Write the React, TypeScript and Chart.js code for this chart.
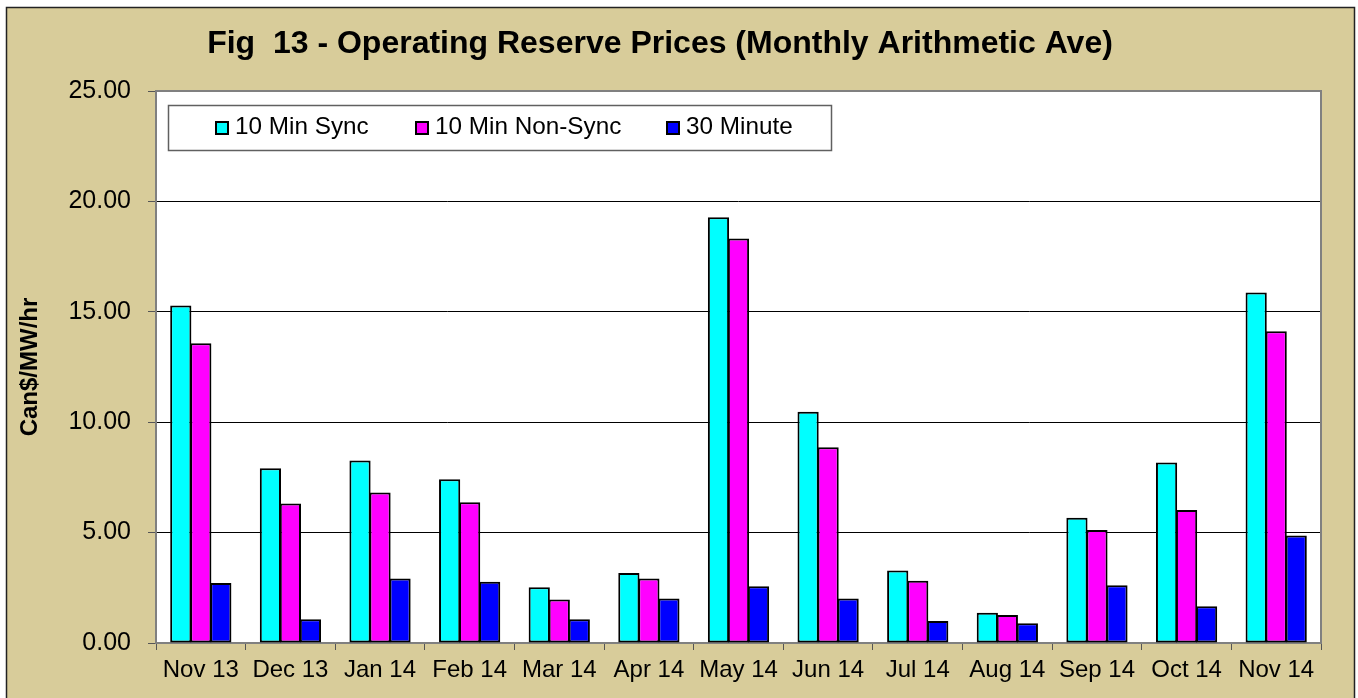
import React, { useEffect, useRef } from "react";
import { Chart, registerables } from "chart.js";

Chart.register(...registerables);

const months = ["Nov 13", "Dec 13", "Jan 14", "Feb 14", "Mar 14", "Apr 14", "May 14", "Jun 14", "Jul 14", "Aug 14", "Sep 14", "Oct 14", "Nov 14"];
const sync10 = [15.28, 7.92, 8.27, 7.42, 2.52, 3.17, 19.28, 10.47, 3.28, 1.37, 5.67, 8.17, 15.87];
const nonSync10 = [13.57, 6.32, 6.82, 6.37, 1.97, 2.92, 18.32, 8.87, 2.82, 1.27, 5.12, 6.02, 14.12];
const min30 = [2.72, 1.07, 2.92, 2.77, 1.07, 2.02, 2.57, 2.02, 1.0, 0.9, 2.62, 1.67, 4.87];
const seriesLabels = ["10 Min Sync", "10 Min Non-Sync", "30 Minute"];
const seriesColors = ["#00FFFF", "#FF00FF", "#0000FF"];
const yMin = 0;
const yMax = 25;
const yStep = 5;
const titleText = "Fig  13 - Operating Reserve Prices (Monthly Arithmetic Ave)";
const yAxisTitle = "Can$/MW/hr";

const FONT = "'Liberation Sans', Arial, sans-serif";
const TAN = "rgb(216,204,154)";

const decor = {
  id: "decor",
  beforeDraw(chart: any) {
    const ctx = chart.ctx;
    const { width, height } = chart;
    ctx.save();
    ctx.fillStyle = "#ffffff";
    ctx.fillRect(0, 0, width, height);
    ctx.fillStyle = TAN;
    ctx.fillRect(6, 7, 1349, height);
    ctx.strokeStyle = "#222";
    ctx.lineWidth = 1.5;
    ctx.strokeRect(6.5, 7.5, 1348, height + 10);
    const a = chart.chartArea;
    ctx.fillStyle = "#ffffff";
    ctx.fillRect(a.left, a.top, a.right - a.left, a.bottom - a.top);
    ctx.restore();
  },
  beforeDatasetsDraw(chart: any) {
    const ctx = chart.ctx;
    const a = chart.chartArea;
    ctx.save();
    ctx.strokeStyle = "#808080";
    ctx.lineWidth = 2;
    ctx.strokeRect(a.left, a.top, a.right - a.left, a.bottom - a.top);
    ctx.restore();
  },
  afterDraw(chart: any) {
    const ctx = chart.ctx;
    const a = chart.chartArea;
    ctx.save();
    // title
    ctx.fillStyle = "#000";
    ctx.font = `bold 32px ${FONT}`;
    ctx.textAlign = "center";
    ctx.textBaseline = "alphabetic";
    ctx.fillText(titleText, 660, 53);
    // y axis title
    ctx.save();
    ctx.translate(37, (a.top + a.bottom) / 2);
    ctx.rotate(-Math.PI / 2);
    ctx.font = `bold 24px ${FONT}`;
    ctx.textAlign = "center";
    ctx.fillText(yAxisTitle, 0, 0);
    ctx.restore();
    // legend
    ctx.fillStyle = "#fff";
    ctx.fillRect(168, 105, 664, 46);
    ctx.strokeStyle = "#606060";
    ctx.lineWidth = 1.5;
    ctx.strokeRect(168.5, 105.5, 663, 45);
    const markerX = [216, 416, 667];
    const ds = chart.data.datasets;
    ctx.font = `24.3px ${FONT}`;
    ctx.textAlign = "left";
    ctx.textBaseline = "alphabetic";
    for (let i = 0; i < ds.length; i++) {
      const mx = markerX[i];
      ctx.fillStyle = ds[i].backgroundColor;
      ctx.fillRect(mx, 122, 12, 12);
      ctx.strokeStyle = "#000";
      ctx.lineWidth = 2;
      ctx.strokeRect(mx, 122, 12, 12);
      ctx.fillStyle = "#000";
      ctx.fillText(ds[i].label, mx + 19, 134);
    }
    ctx.restore();
  },
};

export default function App() {
  const ref = useRef<HTMLCanvasElement | null>(null);
  useEffect(() => {
    document.body.style.margin = "0";
    if (!ref.current) return;
    const seriesData = [sync10, nonSync10, min30];
    const chart = new Chart(ref.current, {
      type: "bar",
      data: {
        labels: months,
        datasets: seriesLabels.map((label, i) => ({
          label,
          data: seriesData[i],
          backgroundColor: seriesColors[i],
          borderColor: "#000",
          borderWidth: 2,
          borderSkipped: false,
          barPercentage: 1.06,
          categoryPercentage: 0.67,
        })),
      },
      options: {
        responsive: false,
        devicePixelRatio: 1,
        animation: false,
        layout: { padding: { top: 91, right: 37, bottom: 0, left: 0 } },
        plugins: {
          legend: { display: false },
          title: { display: false },
          tooltip: { enabled: false },
        },
        scales: {
          x: {
            grid: {
              display: true,
              drawOnChartArea: false,
              drawTicks: true,
              tickLength: 7,
              color: "#555",
              offset: true,
            },
            border: { display: false },
            ticks: {
              font: { family: FONT, size: 24 },
              color: "#000",
              padding: 6,
              maxRotation: 0,
              autoSkip: false,
            },
            afterFit: (s: any) => {
              s.height = 55;
            },
          },
          y: {
            min: yMin,
            max: yMax,
            ticks: {
              stepSize: yStep,
              callback: (v: any) => Number(v).toFixed(2),
              font: { family: FONT, size: 25 },
              color: "#000",
              padding: 17,
            },
            grid: {
              color: "#000",
              tickColor: "#555",
              tickLength: 8,
              lineWidth: 1,
            },
            border: { display: false },
            afterFit: (s: any) => {
              s.width = 156;
            },
          },
        },
      },
      plugins: [decor],
    });
    return () => chart.destroy();
  }, []);
  return (
    <div style={{ position: "absolute", left: 0, top: 0, width: 1358, height: 698 }}>
      <canvas ref={ref} width={1358} height={698} style={{ display: "block" }} />
    </div>
  );
}
